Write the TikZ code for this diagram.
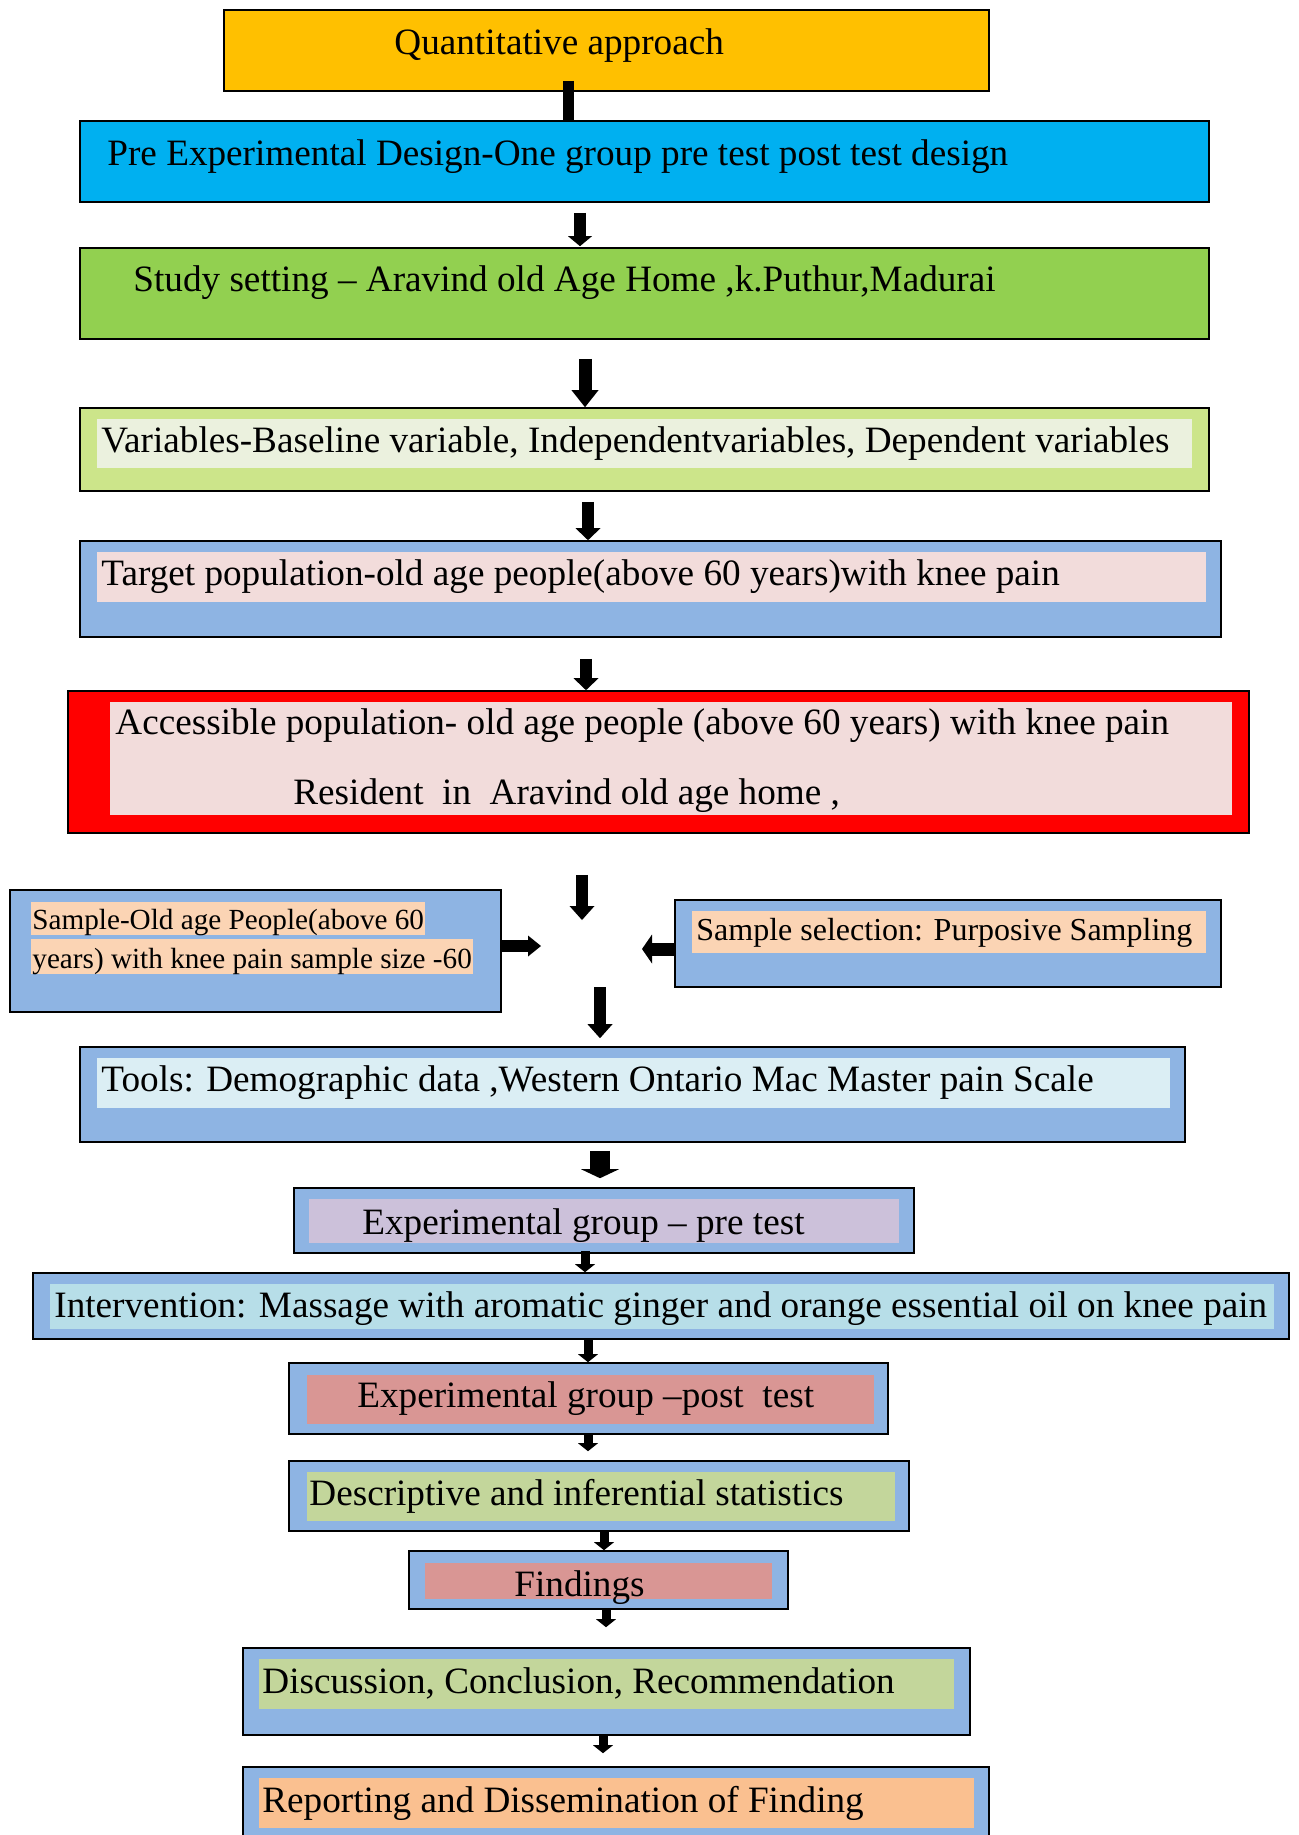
\documentclass[tikz,border=0pt]{standalone}
\usepackage{fontspec}
\setmainfont{Liberation Serif}
\usetikzlibrary{arrows.meta,fit}
\definecolor{cQ}{HTML}{FFC000}
\definecolor{cPE}{HTML}{00B0F0}
\definecolor{cSS}{HTML}{92D050}
\definecolor{cVarO}{HTML}{CCE58A}
\definecolor{cVarI}{HTML}{EBF1DE}
\definecolor{cBlue}{HTML}{8EB4E3}
\definecolor{cPink}{HTML}{F2DCDB}
\definecolor{cRed}{HTML}{FF0000}
\definecolor{cPeach}{HTML}{FBD4B4}
\definecolor{cTools}{HTML}{DBEEF4}
\definecolor{cLav}{HTML}{CCC1DA}
\definecolor{cIntv}{HTML}{B7DEE8}
\definecolor{cRose}{HTML}{D99694}
\definecolor{cOlive}{HTML}{C3D69B}
\definecolor{cOrange}{HTML}{FAC090}
\begin{document}
\begin{tikzpicture}[x=0.5pt,y=-0.5pt,
  outer/.style={draw=black,line width=0.8pt,inner sep=0pt,rectangle},
  inner/.style={draw=none,inner sep=0pt,rectangle},
  txt/.style={anchor=base west,inner sep=0pt,font=\fontsize{18.6}{22}\selectfont},
  stxt/.style={anchor=base west,inner sep=0pt,font=\fontsize{16}{19}\selectfont},
  sstxt/.style={anchor=base west,inner sep=0pt,font=\fontsize{14.6}{17}\selectfont},
  blk/.style n args={3}{line width=#1,-{Triangle[width=#2,length=#3,line width=0pt]}},
  bar/.style={line width=5.5pt}
]
\useasboundingbox (0,0) rectangle (1298,1835);

% boxes
\node[outer,fill=cQ,fit={(224,10) (989,91)}] (q) {};
\node[outer,fill=cPE,fit={(80,121) (1209,202)}] (pe) {};
\node[outer,fill=cSS,fit={(80,248) (1209,339)}] (ss) {};
\node[outer,fill=cVarO,fit={(80,408) (1209,491)}] (var) {};
\node[inner,fill=cVarI,fit={(96.5,419) (1192,468)}] (varI) {};
\node[outer,fill=cBlue,fit={(80,541) (1221,637)}] (tgt) {};
\node[inner,fill=cPink,fit={(96.5,552) (1206,602)}] (tgtI) {};
\node[outer,fill=cRed,fit={(68,691) (1249,833)}] (acc) {};
\node[inner,fill=cPink,fit={(110,702) (1232,815)}] (accI) {};
\node[outer,fill=cBlue,fit={(10,890) (501,1012)}] (sl) {};
\node[inner,fill=cPeach,fit={(31,902) (425,935)}] (slI1) {};
\node[inner,fill=cPeach,fit={(31,939) (473,974)}] (slI2) {};
\node[outer,fill=cBlue,fit={(675,900) (1221,987)}] (sr) {};
\node[inner,fill=cPeach,fit={(692,911) (1206,953)}] (srI) {};
\node[outer,fill=cBlue,fit={(80,1047) (1185,1142)}] (tools) {};
\node[inner,fill=cTools,fit={(96.5,1058) (1170,1108)}] (toolsI) {};
\node[outer,fill=cBlue,fit={(294,1188) (914,1253)}] (epre) {};
\node[inner,fill=cLav,fit={(309,1199) (899,1243)}] (epreI) {};
\node[outer,fill=cBlue,fit={(33,1273) (1289,1339)}] (intv) {};
\node[inner,fill=cIntv,fit={(50,1284) (1274,1329)}] (intvI) {};
\node[outer,fill=cBlue,fit={(289,1363) (888,1434)}] (epost) {};
\node[inner,fill=cRose,fit={(307,1375) (874,1424)}] (epostI) {};
\node[outer,fill=cBlue,fit={(289,1461) (909,1531)}] (desc) {};
\node[inner,fill=cOlive,fit={(307,1472) (895,1521)}] (descI) {};
\node[outer,fill=cBlue,fit={(409,1551) (788,1609)}] (find) {};
\node[inner,fill=cRose,fit={(425,1563) (772,1599)}] (findI) {};
\node[outer,fill=cBlue,fit={(243,1648) (970,1735)}] (disc) {};
\node[inner,fill=cOlive,fit={(259,1659) (954,1709)}] (discI) {};
\node[outer,fill=cBlue,fit={(243,1767) (989,1850)}] (rep) {};
\node[inner,fill=cOrange,fit={(259,1778) (974,1828)}] (repI) {};

% texts
\node[txt] (tq) at (394,55) {Quantitative approach};
\node[txt] (tpe) at (107,166) {Pre Experimental Design-One group pre test post test design};
\node[txt] (tss) at (133,292) {Study setting – Aravind old Age Home ,k.Puthur,Madurai};
\node[txt] (tvar) at (101,452) {Variables-Baseline variable, Independentvariables, Dependent variables};
\node[txt] (ttgt) at (101,585) {Target population-old age people(above 60 years)with knee pain};
\node[txt] (tacc1) at (115,734) {Accessible population- old age people (above 60 years) with knee pain};
\node[txt] (tacc2) at (293,804) {Resident\ \ in\ \ Aravind old age home ,};
\node[sstxt] (tsl1) at (32,929) {Sample-Old age People(above 60};
\node[sstxt] (tsl2) at (32,968) {years) with knee pain sample size -60};
\node[stxt] (tsr) at (696,940) {Sample selection: Purposive Sampling};
\node[txt] (ttools) at (101,1091) {Tools: Demographic data ,Western Ontario Mac Master pain Scale};
\node[txt] (tepre) at (362,1234) {Experimental group – pre test};
\node[txt] (tintv) at (54,1317) {Intervention: Massage with aromatic ginger and orange essential oil on knee pain};
\node[txt] (tepost) at (357,1407) {Experimental group –post\ \ test};
\node[txt] (tdesc) at (309,1505) {Descriptive and inferential statistics};
\node[txt] (tfind) at (514,1596) {Findings};
\node[txt] (tdisc) at (262,1693) {Discussion, Conclusion, Recommendation};
\node[txt] (trep) at (262,1812) {Reporting and Dissemination of Finding};

% hub where the sample arrows meet
\coordinate (hub) at (592,947);

% connectors
\draw[bar] ([shift={(-38.5,-11)}]q.south) -- ([shift={(-76.5,0)}]pe.north);
\draw[blk={6pt}{12pt}{5pt}] ([shift={(-64.5,10)}]pe.south) -- ([shift={(-64.5,-1)}]ss.north);
\draw[blk={6.5pt}{13.5pt}{8.5pt}] ([shift={(-59.5,19)}]ss.south) -- ([shift={(-59.5,0)}]var.north);
\draw[blk={6pt}{12.5pt}{6pt}] ([shift={(-56.5,10)}]var.south) -- ([shift={(-62.5,0)}]tgt.north);
\draw[blk={6pt}{12.5pt}{6pt}] ([shift={(-64.5,21)}]tgt.south) -- ([shift={(-72.5,0)}]acc.north);
\draw[blk={6pt}{12.5pt}{7pt}] ([shift={(-76.5,41)}]acc.south) -- ([shift={(-10,-27)}]hub);
\draw[blk={6pt}{10.5pt}{6.5pt}] ([shift={(0,-5)}]sl.east) -- ([shift={(-51,-1)}]hub);
\draw[blk={6.5pt}{14.5pt}{5pt}] ([shift={(0,5.5)}]sr.west) -- ([shift={(50,2)}]hub);
\draw[blk={6pt}{12.5pt}{7pt}] ([shift={(8,40)}]hub) -- ([shift={(-32.5,-8)}]tools.north);
\draw[blk={10pt}{19pt}{4.5pt}] ([shift={(-32.5,8)}]tools.south) -- ([shift={(-4,-9)}]epre.north);
\draw[blk={4.5pt}{10pt}{4pt}] ([shift={(-19,-3)}]epre.south) -- ([shift={(-76,0)}]intv.north);
\draw[blk={4.5pt}{10pt}{4pt}] ([shift={(-73,0)}]intv.south) -- ([shift={(-0.5,0)}]epost.north);
\draw[blk={4.5pt}{10pt}{4pt}] ([shift={(-0.5,0)}]epost.south) -- ([shift={(-11,-9)}]desc.north);
\draw[blk={4.5pt}{10pt}{4pt}] ([shift={(5,0)}]desc.south) -- ([shift={(5.5,0)}]find.north);
\draw[blk={4.5pt}{10pt}{4pt}] ([shift={(7.5,0)}]find.south) -- ([shift={(-0.5,-20)}]disc.north);
\draw[blk={4.5pt}{10pt}{4pt}] ([shift={(-3.5,0)}]disc.south) -- ([shift={(-13,-13)}]rep.north);
\end{tikzpicture}
\end{document}
